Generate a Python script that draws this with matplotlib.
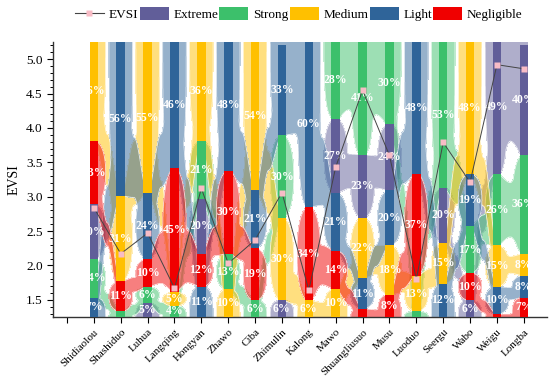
import numpy as np
import matplotlib
matplotlib.use('Agg')
from matplotlib import pyplot as plt
from matplotlib.patches import Patch, Rectangle
from matplotlib.lines import Line2D
from matplotlib.ticker import MultipleLocator, FormatStrFormatter

plt.rcParams['font.family'] = ['Liberation Serif', 'DejaVu Serif']

sites = ['Shidiaolou', 'Shashiduo', 'Luhua', 'Langqing', 'Hongyan', 'Zhawo', 'Ciba',
         'Zhimulin', 'Kalong', 'Mawo', 'Shuangliusuo', 'Musu', 'Luoduo', 'Seergu',
         'Wabo', 'Weigu', 'Longba']
evsi = [2.84, 2.17, 2.47, 1.67, 3.12, 2.03, 2.37, 3.06, 1.64, 3.43, 4.55, 3.60,
        1.80, 3.79, 3.21, 4.92, 4.86]

# share of each vulnerability level per site (%)
extreme    = [20, 0, 5, 0, 20, 0, 0, 6, 0, 27, 23, 24, 0, 20, 6, 49, 40]
strong     = [14, 2, 6, 4, 21, 13, 6, 30, 0, 28, 41, 30, 2, 53, 17, 26, 36]
medium     = [36, 31, 55, 5, 36, 10, 54, 30, 6, 10, 22, 18, 13, 15, 48, 15, 8]
light      = [7, 56, 24, 46, 11, 48, 21, 33, 60, 21, 11, 20, 48, 12, 19, 10, 8]
negligible = [23, 11, 10, 45, 12, 30, 19, 0, 34, 14, 3, 8, 37, 0, 10, 1, 7]

levels = ['Extreme', 'Strong', 'Medium', 'Light', 'Negligible']
colors = ['#615e99', '#3cc06b', '#ffc000', '#2f6499', '#f00000']

y0, y1 = 1.25, 5.25
unit = (y1 - y0) / 100.0
bw = 0.32      # bar width
hw = 0.44      # half width of the soft blobs around each segment

shares = np.array([extreme, strong, medium, light, negligible], dtype=float)
nlev, n = shares.shape
xpos = np.arange(1, n + 1)

# stack every site from smallest share (bottom) to largest (top)
lo = np.full(shares.shape, np.nan)
hi = np.full(shares.shape, np.nan)
for j in range(n):
    order = np.argsort(shares[::-1, j], kind='stable')
    base = y0
    for k in order:
        c = nlev - 1 - k
        v = shares[c, j]
        if v <= 0:
            continue
        lo[c, j] = base
        hi[c, j] = base + v * unit
        base = hi[c, j]


def ext(a, b):
    # segments touching the frame continue past it, so their shapes get cut off
    if b > y1 - 0.1:
        b = y1 + 0.3
    if a < y0 + 0.01:
        a = y0 - 0.3
    return a, b


def blob(x, a, b):
    d = np.linspace(-hw, hw, 161)
    if b > y1 - 0.1:
        c, h, p = y1, y1 - a, 3.0
    elif a < y0 + 0.01:
        c, h, p = y0, b - y0, 3.0
    else:
        c, h, p = (a + b) / 2, (b - a) / 2, 2.2
    r = h * np.clip(1 - np.abs(d / hw) ** p, 0, 1) ** (1 / p)
    return x + d, c - r, c + r


def ribbon(x, a0, b0, a1, b1):
    a0, b0 = ext(a0, b0)
    a1, b1 = ext(a1, b1)
    # neck half way: the mean interval squeezed to half its height ...
    cm = (a0 + a1 + b0 + b1) / 4
    hm = 0.5 * ((b0 - a0) + (b1 - a1)) / 4
    ma, mb = cm - hm, cm + hm
    # ... widened to the common part of both segments if there is one
    ia, ib = max(a0, a1), min(b0, b1)
    if ib > ia:
        sh = 0.12 * (min(ib, y1) - max(ia, y0))
        if ia > y0:
            ia += sh
        if ib < y1:
            ib -= sh
        ma, mb = min(ma, ia), max(mb, ib)
    t = np.linspace(0, 1, 161)
    u = np.where(t < 0.5, 2 * t, 2 - 2 * t)
    s = u * u * (3 - 2 * u)
    ea = np.where(t < 0.5, a0, a1)
    eb = np.where(t < 0.5, b0, b1)
    return x + t, ea + (ma - ea) * s, eb + (mb - eb) * s


fig = plt.figure(figsize=(5.5, 3.8), dpi=100)
ax = fig.add_axes([0.0964, 0.1658, 0.898, 0.7237])
ax.set_xlim(-0.52, 17.86)
ax.set_ylim(y0, y1)

clip = Rectangle((1 - bw / 2, y0), n - 1 + bw, y1 - y0, transform=ax.transData)

gx = np.linspace(0.4, n + 0.6, 3400)
gy = np.linspace(y0 - 0.1, y1 + 0.1, 1100)

for c in range(nlev):
    shapes = []
    for j in range(n):
        if np.isnan(lo[c, j]):
            continue
        shapes.append(blob(xpos[j], lo[c, j], hi[c, j]))
        if j + 1 < n and not np.isnan(lo[c, j + 1]):
            shapes.append(ribbon(xpos[j], lo[c, j], hi[c, j], lo[c, j + 1], hi[c, j + 1]))
    mask = np.zeros((len(gy), len(gx)), dtype=bool)
    for xs, bt, tp in shapes:
        cols = (gx >= xs[0]) & (gx <= xs[-1])
        b_ = np.interp(gx[cols], xs, bt)
        t_ = np.interp(gx[cols], xs, tp)
        mask[:, cols] |= (gy[:, None] >= b_) & (gy[:, None] <= t_)
    m = mask.astype(float)
    cf = ax.contourf(gx, gy, m, levels=[0.5, 1.5], colors=[colors[c]], alpha=0.5, zorder=1)
    cf.set_clip_path(clip)
    cl = ax.contour(gx, gy, m, levels=[0.5], colors='white', linewidths=0.6, alpha=0.8, zorder=1)
    cl.set_clip_path(clip)

for c in range(nlev):
    ok = ~np.isnan(lo[c])
    ax.bar(xpos[ok], (hi[c] - lo[c])[ok], bottom=lo[c][ok], width=bw,
           color=colors[c], linewidth=0, zorder=3)
    for j in np.where(ok)[0]:
        if shares[c, j] < 4:
            continue
        t = ax.text(xpos[j], (lo[c, j] + hi[c, j]) / 2, f'{int(shares[c, j])}%',
                    ha='center', va='center', color='white', fontsize=8.5,
                    fontweight='bold', zorder=5)
        t.set_clip_path(clip)

ax.plot(xpos, evsi, color='#444444', lw=0.7, marker='s', ms=5,
        mfc='#f8bcc6', mec='none', zorder=6)

ax.set_xticks(np.arange(0, n + 1))
ax.set_xticklabels([''] + sites, rotation=45, ha='right', va='top',
                   rotation_mode='anchor', fontsize=8)
ax.yaxis.set_major_locator(MultipleLocator(0.5))
ax.yaxis.set_minor_locator(MultipleLocator(0.1))
ax.yaxis.set_major_formatter(FormatStrFormatter('%.1f'))
ax.tick_params(axis='y', labelsize=9.5, length=4, width=0.8)
ax.tick_params(axis='y', which='minor', length=2.5, width=0.7)
ax.tick_params(axis='x', length=4, width=0.8)
ax.set_ylabel('EVSI', fontsize=10)
for s in ['top', 'right']:
    ax.spines[s].set_visible(False)
for s in ['left', 'bottom']:
    ax.spines[s].set_linewidth(1.0)
    ax.spines[s].set_color('#333333')

handles = [Line2D([0], [0], color='#444444', lw=0.8, marker='s', ms=5,
                  mfc='#f8bcc6', mec='none')]
handles += [Patch(facecolor=col, edgecolor='none') for col in colors]
fig.legend(handles, ['EVSI'] + levels, loc='center', bbox_to_anchor=(0.543, 0.963),
           ncol=6, frameon=False, fontsize=9.5, handlelength=2.2, handleheight=1.1,
           handletextpad=0.35, columnspacing=0.1, borderaxespad=0, borderpad=0)

fig.savefig('out.png', dpi=100)
